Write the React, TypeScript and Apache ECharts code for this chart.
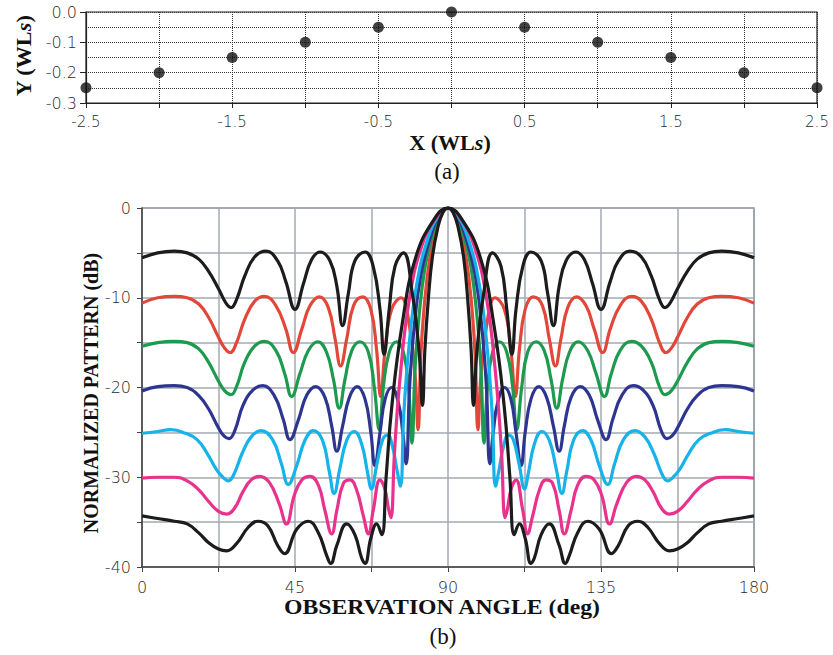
import React, { useEffect, useRef } from "react";
import * as echarts from "echarts";

// ---------- panel (a): element positions ----------
const elemX = [-2.5, -2, -1.5, -1, -0.5, 0, 0.5, 1, 1.5, 2, 2.5];
const elemY = [-0.25, -0.2, -0.15, -0.1, -0.05, 0, -0.05, -0.1, -0.15, -0.2, -0.25];

// ---------- panel (b): patterns [deg, dB] ----------
const patBlackTop = [
  [0, -5.55], [4.6, -5.0], [9.5, -4.8], [13.3, -5.0], [16.7, -5.7], [19.6, -7.05], [22.5, -9.0], [24.7, -10.6], [26.2, -11.1], [27.8, -10.2], [30.2, -7.6], [33.1, -5.45], [36.5, -4.8], [39.9, -5.9], [42.3, -8.2], [45, -11.3], [47.5, -8.4], [49.9, -5.75], [52.4, -4.9], [55.3, -5.9], [57.3, -8.7], [59.0, -13.1], [60.7, -9.5], [62.6, -5.9], [65.6, -4.9], [68.0, -6.5], [70.0, -11.3], [71.2, -16.3], [72.7, -11.3], [74.4, -6.5], [76.9, -5.0], [79.5, -9.5], [81.5, -16], [82.5, -22], [83.2, -15.8], [84.2, -10.2], [85.4, -5.5], [87, -2.2], [88.5, -0.5], [90, 0],
  [91.5, -0.5], [93, -2.2], [94.6, -5.5], [95.8, -10.2], [96.8, -15.8], [97.5, -22], [98.5, -16], [100.5, -9.5], [103.1, -5.0], [105.6, -6.5], [107.3, -11.3], [108.8, -16.3], [110.0, -11.3], [112.0, -6.5], [114.4, -4.9], [117.4, -5.9], [119.3, -9.5], [121.0, -13.1], [122.7, -8.7], [124.7, -5.9], [127.6, -4.9], [130.1, -5.75], [132.5, -8.4], [135, -11.3], [137.7, -8.2], [140.1, -5.9], [143.5, -4.8], [146.9, -5.45], [149.8, -7.6], [152.2, -10.2], [153.8, -11.1], [155.3, -10.6], [157.5, -9.0], [160.4, -7.05], [163.3, -5.7], [166.7, -5.0], [170.5, -4.8], [175.4, -5.0], [180, -5.55],
];

const patRed = [
  [0, -10.6], [4.6, -10.0], [9.5, -9.85], [13.3, -10.0], [16.7, -10.7], [19.6, -12.2], [22.5, -14.4], [24.1, -15.5], [25.9, -16.1], [27.8, -15.0], [30.2, -12.4], [33.1, -10.4], [36.0, -9.85], [39.4, -10.9], [42.3, -13.5], [44.5, -16.1], [47.0, -13.5], [49.4, -10.9], [52.2, -9.9], [54.8, -11.1], [56.8, -14.6], [58.4, -17.6], [60.2, -14.6], [62.2, -10.9], [64.9, -9.9], [67.3, -11.3], [69.0, -15.8], [70.2, -21.0], [71.5, -15.8], [73.4, -11.3], [76.2, -10.0], [78.6, -13], [80.3, -18.5], [81.2, -24.7], [82, -16.5], [83, -11], [84.5, -6], [86.5, -2.3], [88.3, -0.5], [90, 0],
  [91.7, -0.5], [93.5, -2.3], [95.5, -6], [97, -11], [98, -16.5], [98.8, -24.7], [99.7, -18.5], [101.4, -13], [103.8, -10.0], [106.6, -11.3], [108.5, -15.8], [109.8, -21.0], [111.0, -15.8], [112.7, -11.3], [115.1, -9.9], [117.8, -10.9], [119.8, -14.6], [121.6, -17.6], [123.2, -14.6], [125.2, -11.1], [127.8, -9.9], [130.6, -10.9], [133.0, -13.5], [135.5, -16.1], [137.7, -13.5], [140.6, -10.9], [144.0, -9.85], [146.9, -10.4], [149.8, -12.4], [152.2, -15.0], [154.1, -16.1], [155.9, -15.5], [157.5, -14.4], [160.4, -12.2], [163.3, -10.7], [166.7, -10.0], [170.5, -9.85], [175.4, -10.0], [180, -10.6],
];

const patGreen = [
  [0, -15.4], [4.6, -15.0], [9.5, -14.85], [13.3, -15.0], [16.7, -15.7], [19.6, -17.2], [22.5, -19.3], [24.4, -20.4], [26.2, -20.8], [27.8, -19.9], [30.2, -17.2], [33.1, -15.4], [36.0, -14.85], [39.4, -15.9], [42.0, -18.5], [44.0, -21.0], [46.5, -18.4], [48.9, -15.9], [51.7, -14.9], [54.3, -16.1], [56.3, -19.1], [58.0, -22.3], [59.7, -19.1], [61.7, -15.9], [64.1, -14.9], [66.6, -16.1], [68.3, -19.9], [69.8, -24.7], [71.0, -19.9], [72.7, -16.1], [74.9, -14.9], [76.9, -16.1], [78.4, -20], [79.4, -26.2], [80.3, -18], [81.5, -12], [83.3, -6.5], [85.8, -2.5], [88, -0.6], [90, 0],
  [92, -0.6], [94.2, -2.5], [96.7, -6.5], [98.5, -12], [99.7, -18], [100.6, -26.2], [101.6, -20], [103.1, -16.1], [105.1, -14.9], [107.3, -16.1], [109.0, -19.9], [110.2, -24.7], [111.7, -19.9], [113.4, -16.1], [115.9, -14.9], [118.3, -15.9], [120.3, -19.1], [122.0, -22.3], [123.7, -19.1], [125.7, -16.1], [128.3, -14.9], [131.1, -15.9], [133.5, -18.4], [136.0, -21.0], [138.0, -18.5], [140.6, -15.9], [144.0, -14.85], [146.9, -15.4], [149.8, -17.2], [152.2, -19.9], [153.8, -20.8], [155.6, -20.4], [157.5, -19.3], [160.4, -17.2], [163.3, -15.7], [166.7, -15.0], [170.5, -14.85], [175.4, -15.0], [180, -15.4],
];

const patBlue = [
  [0, -20.4], [4.6, -19.9], [9.5, -19.8], [13.3, -20.0], [16.7, -20.9], [19.6, -22.4], [22.5, -24.5], [24.1, -25.4], [25.6, -25.7], [27.3, -24.8], [29.7, -22.0], [32.6, -20.3], [35.5, -19.8], [38.9, -20.9], [41.5, -23.5], [43.5, -25.8], [46.0, -23.6], [48.4, -20.9], [51.1, -19.9], [53.8, -21.1], [55.8, -24.3], [57.3, -27.1], [59.0, -24.3], [61.0, -21.1], [63.3, -19.9], [65.6, -21.3], [67.3, -25.0], [68.5, -28.7], [70.0, -25.0], [71.5, -21.3], [73.4, -20.0], [75.4, -21.7], [76.7, -25.0], [77.7, -28.5], [78.7, -20], [80, -13.5], [82, -7.5], [85, -3], [87.7, -0.7], [90, 0],
  [92.3, -0.7], [95, -3], [98, -7.5], [100, -13.5], [101.3, -20], [102.3, -28.5], [103.3, -25.0], [104.6, -21.7], [106.6, -20.0], [108.5, -21.3], [110.0, -25.0], [111.5, -28.7], [112.7, -25.0], [114.4, -21.3], [116.7, -19.9], [119.0, -21.1], [121.0, -24.3], [122.7, -27.1], [124.2, -24.3], [126.2, -21.1], [128.9, -19.9], [131.6, -20.9], [134.0, -23.6], [136.5, -25.8], [138.5, -23.5], [141.1, -20.9], [144.5, -19.8], [147.4, -20.3], [150.3, -22.0], [152.7, -24.8], [154.4, -25.7], [155.9, -25.4], [157.5, -24.5], [160.4, -22.4], [163.3, -20.9], [166.7, -20.0], [170.5, -19.8], [175.4, -19.9], [180, -20.4],
];

const patCyan = [
  [0, -25.1], [4.6, -24.9], [8.5, -24.7], [12.8, -25.1], [16.2, -25.8], [19.1, -27.3], [22.0, -29.2], [24.1, -30.1], [25.4, -30.4], [27.0, -29.7], [29.5, -27.3], [32.1, -25.5], [35.0, -24.8], [38.4, -25.8], [41.0, -28.5], [43.0, -30.8], [45.5, -28.7], [47.9, -25.9], [50.4, -24.8], [53.1, -25.9], [55.1, -29.4], [56.5, -31.8], [58.2, -29.0], [60.2, -25.9], [62.4, -24.9], [64.6, -26.3], [66.3, -29.4], [67.5, -31.3], [69.0, -28.7], [70.8, -25.8], [72.2, -25.3], [73.7, -26.6], [74.9, -29.0], [76.0, -31.0], [77, -23], [78.5, -15.5], [80.8, -8.5], [84, -3.5], [87.3, -0.8], [90, 0],
  [92.7, -0.8], [96, -3.5], [99.2, -8.5], [101.5, -15.5], [103, -23], [104.0, -31.0], [105.1, -29.0], [106.3, -26.6], [107.8, -25.3], [109.2, -25.8], [111.0, -28.7], [112.5, -31.3], [113.7, -29.4], [115.4, -26.3], [117.6, -24.9], [119.8, -25.9], [121.8, -29.0], [123.5, -31.8], [124.9, -29.4], [126.9, -25.9], [129.6, -24.8], [132.1, -25.9], [134.5, -28.7], [137.0, -30.8], [139.0, -28.5], [141.6, -25.8], [145.0, -24.8], [147.9, -25.5], [150.5, -27.3], [153.0, -29.7], [154.6, -30.4], [155.9, -30.1], [158.0, -29.2], [160.9, -27.3], [163.8, -25.8], [167.2, -25.1], [171.5, -24.7], [175.4, -24.9], [180, -25.1],
];

const patMagenta = [
  [0, -30.1], [4.6, -30.0], [9.5, -30.0], [13.3, -30.4], [16.7, -31.4], [19.6, -32.7], [22.5, -33.8], [24.9, -34.1], [27.3, -33.4], [29.7, -31.6], [32.1, -30.3], [34.6, -29.9], [37.5, -30.6], [40.3, -32.9], [42.5, -35.2], [44.8, -32.0], [47.0, -30.3], [49.4, -29.9], [51.9, -30.9], [53.8, -33.7], [55.8, -36.3], [57.3, -33.7], [59.2, -30.7], [61.2, -30.3], [63.1, -31.4], [65.1, -34.3], [66.6, -36.3], [68.0, -33.7], [70.0, -30.3], [71.5, -31.4], [72.5, -33.5], [73.2, -34.5], [74.3, -27], [76, -18.5], [78.7, -10], [82.5, -4], [86.8, -0.9], [90, 0],
  [93.2, -0.9], [97.5, -4], [101.3, -10], [104, -18.5], [105.7, -27], [106.8, -34.5], [107.5, -33.5], [108.5, -31.4], [110.0, -30.3], [112.0, -33.7], [113.4, -36.3], [114.9, -34.3], [116.9, -31.4], [118.8, -30.3], [120.8, -30.7], [122.7, -33.7], [124.2, -36.3], [126.2, -33.7], [128.1, -30.9], [130.6, -29.9], [133.0, -30.3], [135.2, -32.0], [137.5, -35.2], [139.7, -32.9], [142.5, -30.6], [145.4, -29.9], [147.9, -30.3], [150.3, -31.6], [152.7, -33.4], [155.1, -34.1], [157.5, -33.8], [160.4, -32.7], [163.3, -31.4], [166.7, -30.4], [170.5, -30.0], [175.4, -30.0], [180, -30.1],
];

const patBlackBottom = [
  [0, -34.3], [4.6, -34.6], [9.5, -34.9], [13.3, -35.2], [16.7, -36.2], [19.6, -37.3], [22.5, -38.0], [24.9, -38.2], [27.8, -37.4], [31.2, -35.6], [34.1, -34.9], [37.0, -35.4], [39.9, -37.6], [41.9, -38.5], [45.5, -35.8], [48.9, -34.9], [51.9, -36.2], [54.3, -38.7], [55.5, -39.6], [57.3, -37.6], [60.2, -35.2], [62.6, -36.4], [64.6, -39.0], [65.6, -39.6], [67.3, -36.8], [69.0, -35.2], [70.5, -36.4], [71.8, -30], [73.5, -22], [76.5, -13], [80.5, -5.5], [86, -1.2], [90, 0],
  [94, -1.2], [99.5, -5.5], [103.5, -13], [106.5, -22], [108.2, -30], [109.5, -36.4], [111.0, -35.2], [112.7, -36.8], [114.4, -39.6], [115.4, -39.0], [117.4, -36.4], [119.8, -35.2], [122.7, -37.6], [124.5, -39.6], [125.7, -38.7], [128.1, -36.2], [131.1, -34.9], [134.5, -35.8], [138.1, -38.5], [140.1, -37.6], [143.0, -35.4], [145.9, -34.9], [148.8, -35.6], [152.2, -37.4], [155.1, -38.2], [157.5, -38.0], [160.4, -37.3], [163.3, -36.2], [166.7, -35.2], [170.5, -34.9], [175.4, -34.6], [180, -34.3],
];

const curveColors = {
  red: "#e2483a",
  green: "#1d9a4e",
  blue: "#2e3591",
  cyan: "#16b2ea",
  magenta: "#e8328c",
  black: "#1c1c1c",
};

const tickFont = "DejaVu Sans";
const titleFont = "Liberation Serif, Times New Roman, serif";

export default function App() {
  const ref = useRef<HTMLDivElement>(null);

  useEffect(() => {
    if (!ref.current) return;
    const chart = echarts.init(ref.current, undefined, { renderer: "svg" });

    const lineSeries = (name: string, data: number[][], color: string) => ({
      name,
      type: "line",
      xAxisIndex: 1,
      yAxisIndex: 1,
      data,
      showSymbol: false,
      smooth: 0.45,
      clip: true,
      lineStyle: { color, width: 3.2 },
      itemStyle: { color },
      emphasis: { disabled: true },
    });

    const tickLabel = {
      fontFamily: tickFont,
      fontSize: 15,
      fontWeight: 200,
      color: "#2a2a2a",
    };

    chart.setOption({
      animation: false,
      backgroundColor: "#ffffff",
      grid: [
        { left: 86, top: 12, width: 731, height: 91, show: true, borderColor: "#222", borderWidth: 1.2, backgroundColor: "transparent" },
        { left: 142, top: 208, width: 612, height: 359, show: true, borderColor: "#555", borderWidth: 1.2, backgroundColor: "transparent" },
      ],
      xAxis: [
        {
          gridIndex: 0,
          type: "value",
          min: -2.5,
          max: 2.5,
          interval: 0.5,
          axisLine: { show: true, onZero: false, lineStyle: { color: "#222", width: 1.2 } },
          axisTick: { show: true, inside: false, length: 5, lineStyle: { color: "#222" } },
          axisLabel: {
            ...tickLabel,
            margin: 11,
            formatter: (v: number) => (Math.abs(Math.round(v * 2)) % 2 === 1 ? v.toFixed(1) : ""),
          },
          splitLine: { show: true, lineStyle: { type: "dotted", color: "#333", width: 1 } },
        },
        {
          gridIndex: 1,
          type: "value",
          min: 0,
          max: 180,
          interval: 22.5,
          axisLine: { show: true, onZero: false, lineStyle: { color: "#444", width: 1.5 } },
          axisTick: { show: true, length: 5, lineStyle: { color: "#444" } },
          axisLabel: {
            ...tickLabel,
            fontSize: 16,
            margin: 12,
            formatter: (v: number) => (Math.round(v) % 45 === 0 && Math.abs(v - Math.round(v)) < 1e-6 ? String(Math.round(v)) : ""),
          },
          splitLine: { show: true, lineStyle: { type: "solid", color: "#a3a9b2", width: 1.5 } },
        },
      ],
      yAxis: [
        {
          gridIndex: 0,
          type: "value",
          min: -0.3,
          max: 0,
          interval: 0.1,
          axisLine: { show: true, onZero: false, lineStyle: { color: "#222", width: 1.2 } },
          axisTick: { show: true, length: 6, lineStyle: { color: "#222" } },
          axisLabel: {
            ...tickLabel,
            fontSize: 16,
            margin: 9,
            formatter: (v: number) => (Math.abs(v) < 1e-9 ? "0.0" : v.toFixed(1)),
          },
          splitLine: { show: true, lineStyle: { type: "dotted", color: "#333", width: 1 } },
          minorTick: { show: false, splitNumber: 2 },
          minorSplitLine: { show: true, lineStyle: { type: "dotted", color: "#333", width: 1 } },
        },
        {
          gridIndex: 1,
          type: "value",
          min: -40,
          max: 0,
          interval: 5,
          axisLine: { show: true, onZero: false, lineStyle: { color: "#444", width: 1.5 } },
          axisTick: { show: true, length: 5, lineStyle: { color: "#444" } },
          axisLabel: {
            ...tickLabel,
            fontSize: 16,
            margin: 11,
            formatter: (v: number) => (Math.round(v) % 10 === 0 ? String(Math.round(v)) : ""),
          },
          splitLine: { show: true, lineStyle: { type: "solid", color: "#a3a9b2", width: 1.5 } },
        },
      ],
      series: [
        {
          name: "elements",
          type: "scatter",
          xAxisIndex: 0,
          yAxisIndex: 0,
          data: elemX.map((x, i) => [x, elemY[i]]),
          symbol: "circle",
          symbolSize: 11,
          clip: false,
          itemStyle: { color: "#111" },
          emphasis: { disabled: true },
        },
        lineSeries("SLL -10", patRed, curveColors.red),
        lineSeries("SLL -15", patGreen, curveColors.green),
        lineSeries("SLL -20", patBlue, curveColors.blue),
        lineSeries("SLL -25", patCyan, curveColors.cyan),
        lineSeries("SLL -30", patMagenta, curveColors.magenta),
        lineSeries("SLL -35", patBlackBottom, curveColors.black),
        lineSeries("SLL -5", patBlackTop, curveColors.black),
      ],
      graphic: [
        {
          type: "text",
          x: 24,
          y: 56,
          rotation: Math.PI / 2,
          scaleX: 1.05,
          style: {
            text: "{b|Y (WL}{i|s}{b|)}",
            rich: {
              b: { fontFamily: titleFont, fontWeight: "bold", fontSize: 21, fill: "#111" },
              i: { fontFamily: titleFont, fontWeight: "bold", fontStyle: "italic", fontSize: 21, fill: "#111" },
            },
            align: "center",
            verticalAlign: "middle",
          },
        },
        {
          type: "text",
          x: 450,
          y: 143,
          scaleX: 1.05,
          style: {
            text: "{b|X (WL}{i|s}{b|)}",
            rich: {
              b: { fontFamily: titleFont, fontWeight: "bold", fontSize: 21, fill: "#111" },
              i: { fontFamily: titleFont, fontWeight: "bold", fontStyle: "italic", fontSize: 21, fill: "#111" },
            },
            align: "center",
            verticalAlign: "middle",
          },
        },
        {
          type: "text",
          x: 447,
          y: 171,
          style: { text: "(a)", fontFamily: titleFont, fontSize: 23, fill: "#111", align: "center", verticalAlign: "middle" },
        },
        {
          type: "text",
          x: 91,
          y: 393,
          rotation: Math.PI / 2,
          style: {
            text: "NORMALIZED PATTERN (dB)",
            fontFamily: titleFont,
            fontWeight: "bold",
            fontSize: 20,
            fill: "#111",
            align: "center",
            verticalAlign: "middle",
          },
        },
        {
          type: "text",
          x: 442,
          y: 607,
          scaleX: 1.13,
          style: {
            text: "OBSERVATION ANGLE (deg)",
            fontFamily: titleFont,
            fontWeight: "bold",
            fontSize: 21,
            fill: "#111",
            align: "center",
            verticalAlign: "middle",
          },
        },
        {
          type: "text",
          x: 443,
          y: 636,
          style: { text: "(b)", fontFamily: titleFont, fontSize: 23, fill: "#111", align: "center", verticalAlign: "middle" },
        },
      ],
    });

    return () => chart.dispose();
  }, []);

  return <div ref={ref} style={{ width: 833, height: 655, position: "absolute", left: 0, top: 0 }} />;
}
